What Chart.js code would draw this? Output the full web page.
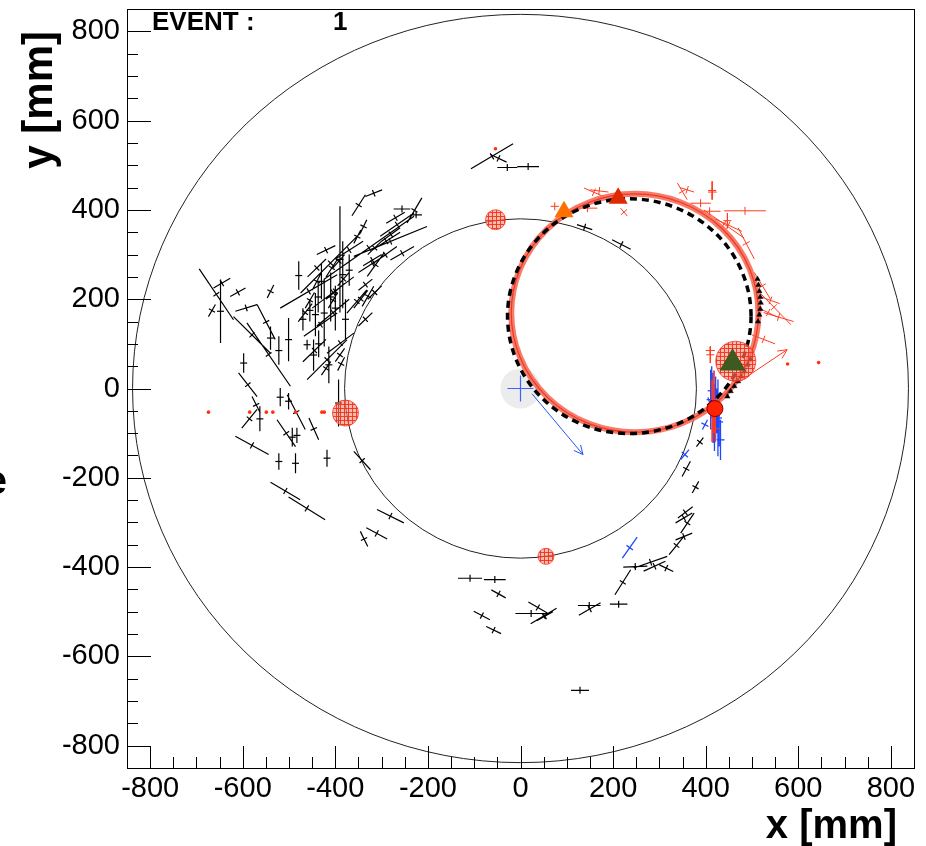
<!DOCTYPE html>
<html>
<head>
<meta charset="utf-8">
<script src="https://cdn.jsdelivr.net/npm/chart.js@4.4.1/dist/chart.umd.min.js"></script>
<style>
  body { margin: 0; background: #fff; }
  #wrap { width: 926px; height: 846px; }
</style>
</head>
<body>
<div id="wrap"><canvas id="evt" width="926" height="846"></canvas></div>
<script>
// axis ticks (mm)
const xTicks = [-800, -600, -400, -200, 0, 200, 400, 600, 800];
const yTicks = [-800, -600, -400, -200, 0, 200, 400, 600, 800];
const minorStep = 50;
const axisRange = [-850, 850];

// detector rings: cx, cy, r
const rings = [[0, 0, 380], [0, 0, 838]];
// fitted helix projections
const fitRed = [247, 169, 267];
const fitDashed = [235, 162, 263];

// hits as [x1, y1, x2, y2]
const blackHits = [
  [-390,170,-390,408], [-384,180,-384,330], [-479,221,-479,285], [-648,102,-648,244],
  [-540,87,-540,139], [-522,53,-522,117], [-501,61,-501,158], [-461,87,-461,109],
  [-443,117,-443,214], [-424,94,-424,244], [-414,12,-414,94], [-598,35,-598,79],
  [-519,-40,-519,1], [-501,-47,-501,-10], [-393,-85,-393,20], [-563,-96,-563,-40],
  [-522,-182,-522,-145], [-486,-190,-486,-145], [-418,-175,-418,-137], [-493,-130,-493,-88],
  [-483,-122,-483,-88], [-430,200,-430,280], [-410,150,-410,260], [-400,130,-400,230],
  [-378,110,-378,200], [-370,230,-370,300], [-455,150,-455,200], [-436,70,-436,130],
  [-437,170,-437,240], [-447,40,-447,110], [-470,130,-470,180],
  [-519,180,-396,255], [-475,214,-346,348], [-425,244,-230,386], [-360,296,-202,363],
  [-468,117,-396,169], [-461,20,-375,109], [-418,79,-360,124], [-375,169,-332,221],
  [-342,184,-317,229], [-331,251,-295,303], [-317,281,-267,318], [-303,341,-230,393],
  [-281,288,-230,318], [-364,387,-335,434], [-335,430,-299,445], [-245,371,-213,427],
  [-274,402,-238,402], [-238,389,-213,389], [-547,203,-533,232], [-627,206,-594,225],
  [-674,161,-659,188], [-663,225,-627,247], [-694,268,-620,154], [-620,161,-540,79],
  [-591,147,-497,5], [-609,35,-569,-18], [-580,-18,-562,-55], [-602,-89,-569,-47],
  [-504,-14,-465,-92], [-457,-66,-436,-115], [-526,-70,-486,-130], [-616,-107,-544,-148],
  [-360,-141,-324,-182], [-540,-210,-476,-249], [-501,-243,-422,-294], [-310,-271,-252,-301],
  [-333,-312,-288,-337], [-346,-320,-330,-354],
  [-450,180,-360,250], [-440,140,-370,200], [-470,60,-420,110], [-350,260,-290,300],
  [-320,310,-260,350], [-400,290,-340,330], [-346,348,-332,378], [-360,325,-345,355],
  [-616,173,-569,188], [-569,188,-530,110],
  [-330,300,-300,330], [-300,330,-260,360], [-290,370,-250,395], [-340,275,-300,300],
  [-420,200,-380,235], [-460,250,-420,290], [-440,300,-400,320], [-480,150,-450,190],
  [-360,180,-330,220], [-350,140,-320,170], [-400,60,-380,90], [-430,30,-410,60],
  [-420,250,-395,290], [-405,270,-380,300], [-395,230,-370,260], [-350,220,-320,245],
  [-330,200,-300,230], [-450,220,-430,260], [-465,180,-445,215], [-415,180,-395,215],
  [-395,40,-380,70],
  [-135,-425,-83,-425], [-79,-428,-32,-428], [-63,-451,-32,-469], [-101,-499,-66,-518],
  [-74,-533,-42,-549], [-11,-504,57,-504], [17,-478,58,-503], [22,-527,78,-492],
  [35,-520,70,-500], [124,-486,173,-486], [126,-508,173,-480], [193,-483,231,-483],
  [204,-462,238,-406], [222,-400,274,-398], [245,-402,317,-376], [266,-409,313,-387],
  [321,-372,353,-331], [335,-301,371,-279], [335,-339,371,-324], [346,-324,375,-279],
  [340,-290,372,-265], [349,-197,367,-163], [371,-234,385,-208], [380,-130,395,-110],
  [300,-395,330,-410], [109,-676,148,-676],
  [-107,492,-16,548], [-65,524,-30,507], [-50,495,-7,495], [-7,497,40,497],
  [122,367,155,356], [198,333,238,312]
];
const redHits = [
  [137,449,180,430], [150,445,190,440], [123,404,166,404], [65,408,83,408],
  [216,404,231,386], [339,460,360,423], [345,450,375,440], [367,415,411,415],
  [414,464,414,423], [405,440,424,440], [385,397,432,397], [440,398,530,398],
  [447,393,447,359], [396,400,483,337], [420,380,478,352], [511,221,584,143],
  [520,205,560,190], [515,180,555,160], [410,94,410,57], [400,85,420,85],
  [414,20,414,-120], [421,-60,421,-120], [470,360,505,290], [418,40,418,-100],
  [505,260,540,200], [525,170,590,150], [500,120,550,100]
];
const blueHits = [
  [410.7,42,410.7,-92], [416,35,416,-122], [421.5,27,421.5,-115], [426.5,20,426.5,-152],
  [432,-70,432,-160], [405,-20,420,-70], [220,-380,252,-333], [346,-159,364,-137],
  [393,-92,404,-70], [413,50,413,-60], [419,10,419,-140], [424,0,424,-100],
  [429,-20,429,-130]
];
// arrows [x1, y1, x2, y2]
const blueArrows = [[25, -12, 135, -148]];
const redArrows = [[468, 12, 576, 87]];

// small black triangle hits along the track
const triHitX = [512, 514, 516, 518, 519, 518, 516, 513, 447, 454, 462, 470, 477, 484, 491, 497];
const triHitY = [245, 232, 218, 205, 192, 178, 165, 150, -18, -6, 5, 16, 27, 38, 53, 65];
// red isolated dots
const dotX = [-674, -585, -549, -535, -486, -429, -424, -54, 577, 644];
const dotY = [-53, -53, -53, -53, -53, -53, -53, 537, 55, 58];
// calorimeter clusters
const clusterX = [-378, -54, 55, 465];
const clusterY = [-55, 378, -376, 61];
// vertex / seed markers
const markerX = [94, 211, 458];
const markerY = [396, 426, 57];
const vertexX = [420];
const vertexY = [-45];
const beamX = [0];
const beamY = [0];

const segData = list => {
  const out = [];
  list.forEach(h => { out.push({x: h[0], y: h[1]}, {x: h[2], y: h[3]}, {x: null, y: null}); });
  return out;
};
const midData = list => list.map(h => ({x: (h[0] + h[2]) / 2, y: (h[1] + h[3]) / 2, h: h}));
const pts = (xs, ys) => xs.map((x, i) => ({x: x, y: ys[i]}));

const perp = ctx => {
  const h = ctx.raw && ctx.raw.h;
  if (!h) return 0;
  const sx = ctx.chart.scales.x, sy = ctx.chart.scales.y;
  const dx = sx.getPixelForValue(h[2]) - sx.getPixelForValue(h[0]);
  const dy = sy.getPixelForValue(h[3]) - sy.getPixelForValue(h[1]);
  return Math.atan2(dy, dx) * 180 / Math.PI + 90;
};

function hatch() {
  const p = document.createElement('canvas');
  p.width = 4; p.height = 4;
  const g = p.getContext('2d');
  g.fillStyle = 'rgba(255,140,120,0.6)';
  g.fillRect(0, 0, 4, 4);
  g.strokeStyle = 'rgba(240,50,30,0.9)';
  g.lineWidth = 1;
  g.beginPath();
  g.moveTo(0, 0.5); g.lineTo(4, 0.5);
  g.moveTo(0.5, 0); g.lineTo(0.5, 4);
  g.stroke();
  return g.createPattern(p, 'repeat');
}

function ellipsePath(c, circ) {
  const sx = c.scales.x, sy = c.scales.y;
  const cx = sx.getPixelForValue(circ[0]), cy = sy.getPixelForValue(circ[1]);
  const rx = Math.abs(sx.getPixelForValue(circ[0] + circ[2]) - cx);
  const ry = Math.abs(cy - sy.getPixelForValue(circ[1] + circ[2]));
  c.ctx.beginPath();
  c.ctx.ellipse(cx, cy, rx, ry, 0, 0, Math.PI * 2);
}

function drawArrows(c, list, color) {
  const ctx = c.ctx, sx = c.scales.x, sy = c.scales.y;
  ctx.save();
  ctx.strokeStyle = color;
  ctx.lineWidth = 1;
  list.forEach(a => {
    const x1 = sx.getPixelForValue(a[0]), y1 = sy.getPixelForValue(a[1]);
    const x2 = sx.getPixelForValue(a[2]), y2 = sy.getPixelForValue(a[3]);
    const ang = Math.atan2(y2 - y1, x2 - x1);
    ctx.beginPath();
    ctx.moveTo(x1, y1); ctx.lineTo(x2, y2);
    ctx.moveTo(x2 - 10 * Math.cos(ang - 0.45), y2 - 10 * Math.sin(ang - 0.45));
    ctx.lineTo(x2, y2);
    ctx.lineTo(x2 - 10 * Math.cos(ang + 0.45), y2 - 10 * Math.sin(ang + 0.45));
    ctx.stroke();
  });
  ctx.restore();
}

const eventPlugin = {
  id: 'eventDisplay',
  beforeDatasetsDraw(c) {
    const ctx = c.ctx;
    ctx.save();
    ctx.strokeStyle = '#222';
    ctx.lineWidth = 1;
    rings.forEach(r => { ellipsePath(c, r); ctx.stroke(); });
    ctx.restore();
  },
  afterDatasetDraw(c, args) {
    if (!c.data.datasets[args.index].fitAfter) return;
    const ctx = c.ctx;
    ctx.save();
    ctx.strokeStyle = 'rgba(246,100,78,0.85)';
    ctx.lineWidth = 6;
    ellipsePath(c, fitRed); ctx.stroke();
    ctx.strokeStyle = 'rgba(235,50,30,0.9)';
    ctx.lineWidth = 1.2;
    ellipsePath(c, fitRed); ctx.stroke();
    ctx.strokeStyle = '#000';
    ctx.lineWidth = 3.5;
    ctx.setLineDash([7, 5]);
    ellipsePath(c, fitDashed); ctx.stroke();
    ctx.restore();
    drawArrows(c, blueArrows, '#2255ff');
    drawArrows(c, redArrows, '#ff3b1f');
  },
  afterDraw(c) {
    const ctx = c.ctx, a = c.chartArea, sx = c.scales.x, sy = c.scales.y;
    ctx.save();
    ctx.strokeStyle = '#000';
    ctx.lineWidth = 1;
    ctx.strokeRect(a.left + 0.5, a.top + 0.5, a.right - a.left, a.bottom - a.top);
    ctx.beginPath();
    for (let v = axisRange[0]; v <= axisRange[1]; v += minorStep) {
      const x = Math.round(sx.getPixelForValue(v)) + 0.5;
      if (x > a.left + 1 && x < a.right - 1) {
        ctx.moveTo(x, a.bottom); ctx.lineTo(x, a.bottom - (xTicks.includes(v) ? 22 : 11));
      }
      const y = Math.round(sy.getPixelForValue(v)) + 0.5;
      if (y > a.top + 1 && y < a.bottom - 1) {
        ctx.moveTo(a.left, y); ctx.lineTo(a.left + (yTicks.includes(v) ? 24 : 11), y);
      }
    }
    ctx.stroke();
    ctx.fillStyle = '#000';
    ctx.textBaseline = 'alphabetic';
    ctx.font = 'bold 26px "Liberation Sans", Arial, sans-serif';
    ctx.textAlign = 'left';
    ctx.fillText('EVENT :', 152, 30);
    ctx.fillText('1', 333, 30);
    ctx.font = 'bold 40px "Liberation Sans", Arial, sans-serif';
    ctx.textAlign = 'right';
    ctx.fillText('x [mm]', 897, 838);
    ctx.fillText('e', 7, 494);
    ctx.font = 'bold 42px "Liberation Sans", Arial, sans-serif';
    ctx.translate(52, 31);
    ctx.rotate(-Math.PI / 2);
    ctx.fillText('y [mm]', 0, 0);
    ctx.restore();
  }
};

const tickFont = {family: '"Liberation Sans", Arial, sans-serif', size: 29};
const hatchFill = hatch();

new Chart(document.getElementById('evt'), {
  type: 'scatter',
  data: {
    datasets: [
      {data: pts(beamX, beamY), order: 20, pointRadius: 20, pointBackgroundColor: '#ececec', pointBorderWidth: 0},
      {data: segData(blackHits), order: 15, showLine: true, borderColor: '#000', borderWidth: 1.2, pointRadius: 0},
      {data: midData(blackHits), order: 14, pointStyle: 'line', pointRadius: 3.5, borderColor: '#000', borderWidth: 1.2, rotation: perp},
      {data: segData(blueHits), order: 13, showLine: true, borderColor: '#1f48ff', borderWidth: 1.3, pointRadius: 0},
      {data: midData(blueHits), order: 12, pointStyle: 'line', pointRadius: 4, borderColor: '#1f48ff', borderWidth: 1.3, rotation: perp},
      {data: segData(redHits), order: 11, showLine: true, borderColor: '#ff3b1f', borderWidth: 1, pointRadius: 0},
      {data: midData(redHits), order: 10, fitAfter: true, pointStyle: 'line', pointRadius: 4, borderColor: '#ff3b1f', borderWidth: 1, rotation: perp},
      {data: pts(triHitX, triHitY), order: 6, pointStyle: 'triangle', pointRadius: 3, pointBackgroundColor: '#000', pointBorderColor: '#000', pointBorderWidth: 0.5},
      {data: pts(dotX, dotY), order: 5, pointRadius: 1.8, pointBackgroundColor: '#ff3010', pointBorderWidth: 0},
      {data: pts(clusterX, clusterY), order: 4, pointRadius: [13, 10, 8, 20], pointBackgroundColor: hatchFill, pointBorderColor: 'rgba(240,60,40,0.8)', pointBorderWidth: 1},
      {data: pts(beamX, beamY), order: 3, pointStyle: 'cross', pointRadius: 13, pointBorderColor: '#3d63ff', pointBorderWidth: 1.2},
      {data: pts(markerX, markerY), order: 1, pointStyle: 'triangle', pointRadius: [11, 11, 15], pointBackgroundColor: ['#ff7000', '#dd2a00', '#3e5a1f'], pointBorderWidth: 0},
      {data: pts(vertexX, vertexY), order: 0, pointRadius: 8, pointBackgroundColor: '#ff2200', pointBorderColor: '#8a0000', pointBorderWidth: 1}
    ]
  },
  options: {
    responsive: false,
    animation: false,
    events: [],
    layout: {autoPadding: false, padding: {top: 9, right: 12, left: 0, bottom: 0}},
    plugins: {legend: {display: false}, tooltip: {enabled: false}},
    scales: {
      x: {
        type: 'linear', min: axisRange[0], max: axisRange[1],
        afterBuildTicks: s => { s.ticks = xTicks.map(v => ({value: v})); },
        afterFit: s => { s.height = 78; s.paddingLeft = 0; s.paddingRight = 0; },
        grid: {display: false, drawTicks: false},
        border: {display: false},
        ticks: {color: '#000', font: tickFont, padding: 4, maxRotation: 0, autoSkip: false}
      },
      y: {
        type: 'linear', min: axisRange[0], max: axisRange[1],
        afterBuildTicks: s => { s.ticks = yTicks.map(v => ({value: v})); },
        afterFit: s => { s.width = 127; s.paddingTop = 0; s.paddingBottom = 0; },
        grid: {display: false, drawTicks: false},
        border: {display: false},
        ticks: {color: '#000', font: tickFont, padding: 7, autoSkip: false}
      }
    }
  },
  plugins: [eventPlugin]
});
</script>
</body>
</html>
